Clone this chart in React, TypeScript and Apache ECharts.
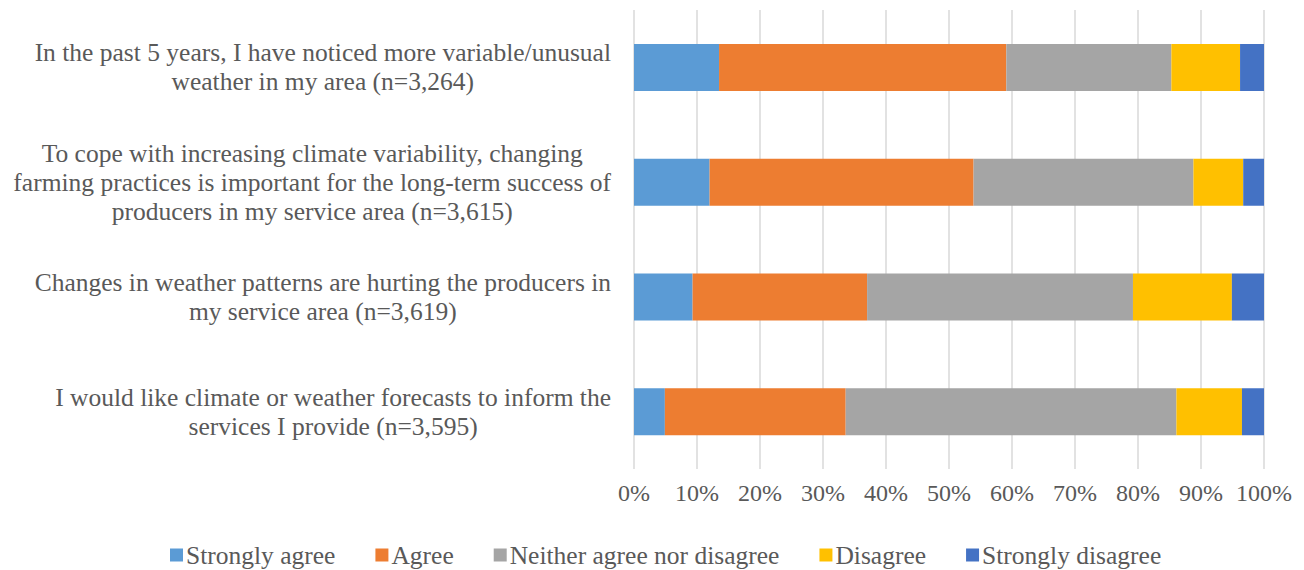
import React, { useEffect, useRef } from "react";
import * as echarts from "echarts";

const categoryLines: string[][] = [
  ["In the past 5 years, I have noticed more variable/unusual", "weather in my area (n=3,264)"],
  [
    "To cope with increasing climate variability, changing",
    "farming practices is important for the long-term success of",
    "producers in my service area (n=3,615)",
  ],
  ["Changes in weather patterns are hurting the producers in", "my service area (n=3,619)"],
  ["I would like climate or weather forecasts to inform the", "services I provide (n=3,595)"],
];

const seriesNames = ["Strongly agree", "Agree", "Neither agree nor disagree", "Disagree", "Strongly disagree"];
const seriesColors = ["#5B9BD5", "#ED7D31", "#A5A5A5", "#FFC000", "#4472C4"];

const stronglyAgree = [13.5, 12.0, 9.3, 4.9];
const agree = [45.6, 41.9, 27.7, 28.7];
const neither = [26.2, 34.9, 42.2, 52.5];
const disagree = [10.9, 7.9, 15.7, 10.4];
const stronglyDisagree = [3.8, 3.3, 5.1, 3.5];

const seriesValues = [stronglyAgree, agree, neither, disagree, stronglyDisagree];

const FONT = "'Liberation Serif', 'Times New Roman', serif";
const TEXT_COLOR = "#595959";

export default function App() {
  const ref = useRef<HTMLDivElement>(null);

  useEffect(() => {
    if (!ref.current) return;
    const chart = echarts.init(ref.current, undefined, { renderer: "svg" });
    const categories = categoryLines.map((l) => l.join("\n"));
    chart.setOption({
      animation: false,
      backgroundColor: "#ffffff",
      grid: { left: 634, right: 40, top: 10, height: 459, containLabel: false },
      legend: {
        left: 165,
        top: 537,
        itemWidth: 13,
        itemHeight: 13,
        itemGap: 40,
        icon: "rect",
        textStyle: { fontFamily: FONT, fontSize: 25.5, color: TEXT_COLOR, padding: [0, 0, 0, -2] },
        data: seriesNames,
      },
      xAxis: {
        type: "value",
        min: 0,
        max: 100,
        interval: 10,
        axisLine: { show: false },
        axisTick: { show: false },
        splitLine: { show: true, lineStyle: { color: "#D9D9D9", width: 1.5 } },
        axisLabel: {
          formatter: "{value}%",
          fontFamily: FONT,
          fontSize: 24,
          color: TEXT_COLOR,
          margin: 12,
        },
      },
      yAxis: {
        type: "category",
        inverse: true,
        data: categories,
        axisLine: { show: false },
        axisTick: { show: false },
        axisLabel: {
          margin: 23,
          align: "right",
          formatter: (v: string) =>
            v
              .split("\n")
              .map((s) => "{c|" + s + "}")
              .join("\n"),
          rich: {
            c: {
              align: "center",
              fontFamily: FONT,
              fontSize: 25.5,
              lineHeight: 29,
              color: TEXT_COLOR,
            },
          },
        },
      },
      series: seriesNames.map((name, i) => ({
        name,
        type: "bar",
        stack: "total",
        barWidth: 47,
        itemStyle: { color: seriesColors[i] },
        data: seriesValues[i],
      })),
    });
    return () => chart.dispose();
  }, []);

  return (
    <div
      ref={ref}
      style={{ position: "fixed", left: 0, top: 0, width: 1304, height: 570 }}
    />
  );
}
